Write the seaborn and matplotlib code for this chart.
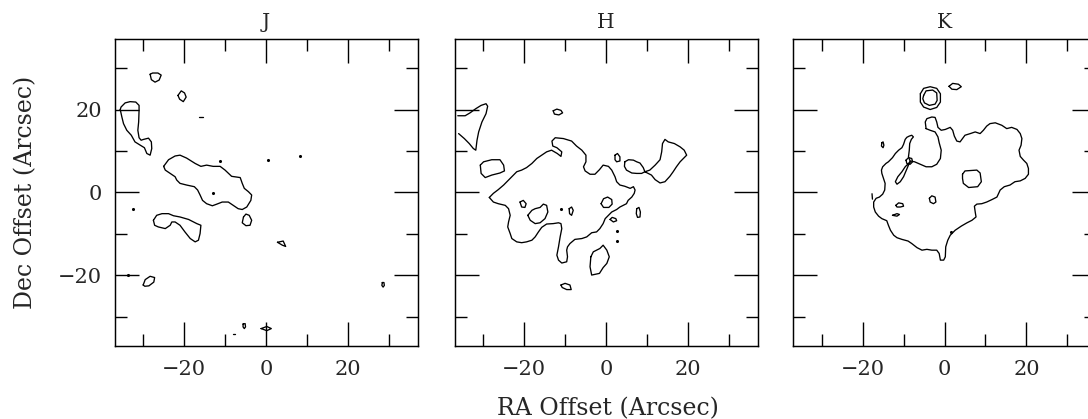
import pandas as pd
import matplotlib
matplotlib.use("Agg")
import matplotlib.pyplot as plt
import seaborn as sns

# ---------------- data ----------------
PANELS = ["J", "H", "K"]
MAJOR_TICKS = [-20, 0, 20]
MINOR_TICKS = [-30, -10, 10, 30]
AXIS_LIMIT = [-37, 37]
X_LABEL = "RA Offset (Arcsec)"
Y_LABEL = "Dec Offset (Arcsec)"

# J band contours (arcsec)
J_NW_LOOP = [(-28.3, 28.5), (-27.7, 28.8), (-26.4, 28.8), (-25.6, 28.3), (-26.1, 27.1), (-27.1, 26.6), (-28.0, 27.2)]
J_DIAMOND = [(-21.5, 23.4), (-20.7, 24.5), (-19.9, 24.0), (-19.5, 23.0), (-20.2, 21.9), (-21.1, 22.5)]
J_EDGE_STREAK = [(-35.6, 20.0), (-35.4, 20.6), (-34.4, 21.6), (-33.2, 21.9), (-31.8, 21.8), (-31.0, 21.0),
                 (-31.0, 19.8), (-31.1, 17.0), (-31.3, 15.0), (-31.0, 13.2), (-30.5, 12.6), (-29.9, 12.8),
                 (-28.7, 13.1), (-28.0, 12.2), (-27.9, 10.6), (-28.3, 9.0), (-29.1, 9.4), (-29.7, 10.8),
                 (-30.7, 11.4), (-32.0, 12.2), (-32.9, 13.8), (-34.0, 15.0), (-34.8, 16.6), (-35.2, 18.2)]
J_CENTRAL_BAND = [(-25.0, 6.3), (-23.8, 7.9), (-22.2, 8.8), (-21.0, 9.0), (-19.4, 8.3), (-17.3, 7.0),
                  (-15.9, 6.3), (-14.5, 6.6), (-12.9, 6.3), (-11.2, 6.3), (-10.0, 5.4), (-8.4, 3.9),
                  (-6.3, 3.6), (-5.8, 2.2), (-5.3, 1.0), (-4.3, 0.2), (-3.5, -0.6), (-3.7, -1.9),
                  (-4.7, -3.5), (-5.8, -4.1), (-6.8, -3.9), (-8.0, -3.1), (-9.2, -2.3), (-10.7, -2.3),
                  (-12.0, -2.8), (-13.1, -3.2), (-14.5, -2.7), (-15.5, -1.9), (-16.1, -0.6), (-16.7, 0.6),
                  (-17.5, 1.4), (-19.4, 1.8), (-21.0, 2.2), (-21.8, 3.0), (-22.2, 3.8), (-23.4, 4.6), (-24.6, 5.4)]
J_EAST_KNOT = [(-5.5, -5.9), (-4.9, -5.2), (-4.1, -5.5), (-3.5, -6.7), (-3.9, -7.9), (-4.9, -8.0), (-5.8, -7.3)]
J_SOUTH_ARC = [(-27.5, -6.7), (-26.7, -5.5), (-25.4, -5.1), (-23.8, -5.1), (-22.6, -5.6), (-21.0, -5.9),
               (-18.9, -6.5), (-16.9, -7.5), (-15.9, -7.9), (-16.1, -9.9), (-16.5, -11.5), (-17.3, -11.9),
               (-18.5, -11.1), (-19.8, -9.5), (-21.0, -7.9), (-22.2, -7.1), (-23.0, -7.1), (-23.4, -7.9),
               (-24.6, -8.7), (-26.3, -8.3), (-27.2, -7.9)]
J_SMALL_TRI = [(2.8, -12.0), (4.2, -11.7), (4.8, -13.0), (4.0, -12.7)]
J_SW_OVAL = [(-30.0, -22.3), (-29.5, -21.0), (-28.3, -20.2), (-27.2, -20.5), (-27.4, -21.6), (-28.6, -22.5), (-29.6, -22.6)]
J_BOTTOM_DIAMOND = [(-1.2, -32.8), (0.2, -32.3), (1.3, -32.8), (0.2, -33.3)]
J_BOTTOM_OVAL = [(-5.6, -31.7), (-5.1, -31.6), (-5.0, -32.4), (-5.3, -32.8), (-5.6, -32.4)]
J_FAR_EAST_OVAL = [(28.4, -21.7), (28.8, -21.7), (28.9, -22.4), (28.6, -22.8), (28.3, -22.4)]
J_DASH_A = [(-16.4, 18.1), (-15.4, 18.1)]
J_DASH_B = [(-8.1, -34.0), (-7.5, -34.0)]
J_DOTS_X = [-11.2, -12.9, 0.6, 8.4, -32.4, -33.6]
J_DOTS_Y = [7.5, -0.1, 7.8, 8.9, -4.0, -19.8]

# H band contours (arcsec)
H_EDGE_PLUME = [(-36.2, 18.5), (-34.4, 18.5), (-33.2, 19.2), (-31.8, 20.2), (-30.5, 21.0), (-29.3, 21.4),
                (-28.9, 20.8), (-29.3, 19.0), (-30.3, 17.0), (-31.1, 14.6), (-31.5, 12.6), (-31.8, 10.2),
                (-32.4, 10.6), (-33.4, 11.8), (-34.6, 13.0), (-36.0, 14.2)]
H_NORTH_OVAL = [(-12.9, 19.7), (-12.0, 20.1), (-11.0, 19.8), (-10.6, 19.2), (-11.5, 18.7), (-12.6, 18.9)]
H_WEST_BLOCK = [(-30.7, 6.6), (-29.9, 7.4), (-27.9, 7.9), (-25.9, 7.9), (-25.0, 6.6), (-24.8, 5.2),
                (-25.9, 4.7), (-27.9, 4.2), (-29.5, 3.6), (-30.5, 4.6)]
H_MAIN_CLOUD = [(-28.5, -1.2), (-27.5, -0.2), (-26.3, 0.7), (-25.0, 1.8), (-23.8, 3.0), (-22.6, 4.2),
                (-21.8, 5.0), (-20.6, 5.4), (-19.4, 6.0), (-18.1, 7.0), (-16.9, 8.2), (-15.7, 9.0),
                (-14.5, 9.8), (-13.3, 10.2), (-11.9, 9.4), (-11.0, 8.7), (-10.8, 9.8), (-12.0, 10.8),
                (-13.0, 11.2), (-13.2, 12.4), (-12.4, 13.2), (-10.4, 13.0), (-8.4, 12.4), (-7.2, 11.2),
                (-5.9, 10.2), (-4.9, 9.0), (-4.9, 7.4), (-5.5, 6.2), (-5.1, 5.2), (-3.9, 4.4), (-2.7, 4.4),
                (-1.6, 5.5), (-0.7, 6.6), (0.6, 6.3), (1.4, 5.4), (2.2, 3.8), (2.6, 2.6), (3.4, 1.8),
                (4.6, 1.5), (5.9, 1.0), (6.7, 1.4), (7.1, 0.6), (6.9, -0.2), (6.3, -1.1), (5.4, -1.9),
                (5.0, -2.7), (4.2, -3.1), (3.4, -3.5), (2.6, -4.1), (1.4, -4.7), (0.6, -5.5), (-0.2, -6.3),
                (-0.7, -7.5), (-1.5, -8.7), (-2.3, -9.5), (-3.5, -9.7), (-4.7, -10.7), (-5.9, -11.1),
                (-7.6, -11.3), (-8.8, -12.3), (-9.4, -13.1), (-9.6, -13.9), (-9.4, -15.5), (-9.6, -16.7),
                (-10.8, -17.0), (-11.6, -16.3), (-12.0, -15.1), (-11.6, -13.1), (-11.2, -10.7),
                (-10.8, -8.7), (-11.0, -7.5), (-11.6, -7.3), (-12.9, -7.5), (-14.5, -7.6), (-15.7, -8.4),
                (-16.5, -9.5), (-17.3, -10.7), (-18.1, -11.5), (-19.4, -11.9), (-20.6, -12.1),
                (-21.8, -11.9), (-23.0, -11.1), (-23.4, -9.9), (-24.0, -8.3), (-23.8, -7.1), (-23.4, -5.5),
                (-23.8, -3.9), (-24.6, -3.1), (-26.3, -2.7), (-27.5, -2.3)]
H_HOLE_A = [(-21.0, -2.3), (-20.2, -1.9), (-19.5, -2.7), (-19.8, -3.6), (-20.6, -3.5)]
H_HOLE_B = [(-19.1, -5.5), (-18.1, -4.3), (-17.3, -3.9), (-16.1, -3.6), (-15.3, -2.8), (-14.5, -3.1),
            (-14.2, -4.7), (-14.9, -6.3), (-16.1, -7.3), (-17.3, -7.5), (-18.5, -6.7)]
H_HOLE_C = [(-9.0, -3.9), (-8.4, -3.5), (-8.0, -4.3), (-8.4, -5.5), (-8.9, -5.1)]
H_SOUTH_BLOB = [(-3.7, -15.5), (-3.1, -14.3), (-1.5, -13.5), (-0.7, -12.7), (0.2, -13.9), (0.8, -15.5),
                (0.2, -17.1), (-0.7, -18.1), (-1.6, -19.5), (-3.5, -19.9), (-3.9, -17.9)]
H_SOUTH_CHIP = [(-11.0, -22.3), (-10.0, -21.9), (-8.8, -22.3), (-8.5, -23.4), (-9.6, -23.4), (-10.7, -22.9)]
H_KNOT_N = [(2.2, 9.0), (2.8, 9.4), (3.4, 8.6), (3.4, 7.6), (2.6, 7.4), (2.2, 7.9)]
H_KNOT_E = [(4.6, 7.4), (5.5, 7.9), (6.7, 7.8), (7.5, 7.4), (8.3, 7.1), (9.1, 6.0), (9.5, 5.0),
            (8.7, 4.6), (7.5, 4.6), (6.3, 4.7), (5.0, 5.4), (4.5, 6.3)]
H_EAST_KITE = [(9.5, 5.0), (10.7, 5.4), (12.0, 6.6), (13.2, 7.9), (13.6, 9.8), (13.8, 11.8), (14.4, 12.8),
               (15.2, 12.2), (16.7, 11.8), (18.1, 11.0), (19.1, 10.2), (19.7, 9.0), (18.9, 8.2),
               (18.1, 7.4), (17.2, 6.2), (16.4, 5.0), (15.6, 3.9), (14.4, 2.6), (13.2, 2.3), (12.0, 3.1),
               (11.1, 4.2)]
H_INNER_OVAL = [(7.5, -3.9), (8.05, -3.6), (8.4, -4.7), (8.3, -5.9), (7.7, -6.0), (7.4, -5.1)]
H_INNER_LOOP = [(1.0, -6.5), (1.5, -6.0), (2.4, -6.3), (2.6, -6.8), (1.8, -7.1)]
H_BAY_LOOP = [(-1.2, -2.7), (-0.6, -1.5), (0.4, -1.1), (1.4, -1.7), (1.5, -2.8), (0.7, -3.6), (-0.6, -3.6)]
H_DOTS_X = [-11.1, 2.6, 2.8]
H_DOTS_Y = [-4.0, -9.3, -11.7]

# K band contours (arcsec)
K_STAR_OUTER = [(-5.9, 23.8), (-5.1, 25.1), (-3.5, 25.5), (-1.9, 25.1), (-1.0, 23.8), (-1.0, 21.8),
                (-1.9, 20.5), (-3.5, 20.0), (-5.1, 20.6), (-5.9, 21.8)]
K_STAR_INNER = [(-5.1, 23.4), (-4.5, 24.5), (-2.9, 24.7), (-1.9, 24.0), (-1.8, 22.2), (-2.3, 21.3),
                (-3.7, 21.0), (-4.9, 21.6), (-5.3, 22.6)]
K_NE_OVAL = [(1.1, 25.6), (2.0, 26.3), (3.4, 26.1), (4.1, 25.5), (3.0, 24.8), (1.8, 24.9)]
K_MAIN_CLOUD = [(-4.5, 15.4), (-4.7, 17.0), (-4.3, 17.8), (-3.1, 18.2), (-2.3, 18.1), (-1.9, 17.0),
                (-1.6, 15.7), (-0.8, 15.0), (0.2, 15.2), (1.4, 15.7), (2.0, 15.0), (2.4, 13.6),
                (3.0, 12.4), (3.8, 12.2), (4.4, 13.0), (5.0, 13.8), (6.3, 14.2), (7.5, 14.6),
                (8.7, 14.2), (9.5, 15.0), (10.3, 16.0), (11.1, 16.6), (12.4, 16.8), (14.0, 16.2),
                (15.2, 15.4), (16.4, 15.7), (17.7, 15.2), (18.5, 14.2), (18.9, 13.0), (18.7, 11.4),
                (18.2, 10.2), (18.5, 8.7), (19.3, 7.8), (20.1, 7.0), (20.5, 5.8), (20.5, 4.4),
                (19.7, 3.4), (18.5, 2.8), (17.2, 2.6), (16.0, 1.8), (14.6, 1.4), (13.6, 0.6),
                (12.8, -1.1), (11.6, -1.7), (10.3, -2.3), (9.1, -2.7), (7.9, -2.8), (7.3, -3.3),
                (7.5, -4.7), (7.7, -5.9), (6.7, -6.7), (5.5, -7.3), (4.1, -8.1), (2.6, -9.1),
                (1.4, -10.3), (0.8, -11.5), (0.3, -13.1), (0.2, -15.5), (-0.2, -16.3), (-1.0, -16.3),
                (-1.3, -14.7), (-1.9, -13.9), (-3.1, -13.9), (-4.3, -13.7), (-5.5, -13.9), (-6.7, -13.3),
                (-8.0, -12.3), (-8.9, -11.7), (-10.4, -11.3), (-11.6, -10.9), (-12.4, -10.3),
                (-13.2, -9.1), (-13.7, -7.9), (-14.1, -6.8), (-15.3, -6.3), (-16.1, -5.7), (-16.9, -4.7),
                (-17.3, -3.5), (-17.3, -2.3), (-16.7, -1.4), (-15.9, -1.1), (-15.1, -0.4), (-14.6, 0.6),
                (-14.5, 2.2), (-14.9, 3.4), (-15.3, 4.6), (-15.4, 5.4), (-15.1, 6.2), (-14.3, 7.0),
                (-13.7, 7.4), (-12.7, 8.4), (-12.0, 9.4), (-11.2, 10.2), (-10.4, 10.8), (-10.0, 11.6),
                (-9.6, 12.8), (-9.2, 13.3), (-8.6, 13.6), (-8.0, 13.8), (-7.6, 13.4), (-8.1, 12.8),
                (-8.5, 11.8), (-8.6, 10.2), (-8.8, 8.6), (-8.4, 7.6), (-7.3, 7.4), (-5.9, 6.8),
                (-4.5, 6.2), (-3.1, 6.2), (-1.9, 6.8), (-1.0, 8.2), (-0.8, 10.2), (-1.3, 12.0),
                (-1.6, 13.4), (-2.3, 14.6), (-3.5, 15.0)]
K_THIN_FINGER = [(-8.4, 7.4), (-9.6, 6.2), (-10.4, 5.0), (-11.4, 3.8), (-12.0, 2.6), (-11.6, 2.0),
                 (-10.8, 2.6), (-10.0, 3.8), (-9.4, 5.2), (-8.8, 6.6)]
K_NECK_LOOP = [(-9.4, 7.8), (-8.8, 8.4), (-8.0, 8.2), (-7.8, 7.4), (-8.4, 6.8), (-9.2, 7.0)]
K_WEST_SLIVER = [(-15.3, 12.0), (-15.0, 12.2), (-14.8, 11.4), (-15.0, 10.8), (-15.4, 11.2)]
K_EAST_SQUARE = [(4.4, 4.4), (5.0, 5.2), (7.9, 5.4), (8.7, 4.7), (9.0, 2.6), (8.1, 1.4), (5.9, 1.2),
                 (4.6, 2.2), (4.4, 3.4)]
K_CORE_LOOP = [(-3.7, -1.4), (-3.1, -0.8), (-2.3, -1.1), (-2.1, -2.3), (-2.7, -2.7), (-3.5, -2.3)]
K_WEST_LOOP = [(-11.9, -3.1), (-11.2, -2.5), (-10.2, -2.7), (-10.0, -3.3), (-10.8, -3.5), (-11.6, -3.5)]
K_WEST_CHIP = [(-12.7, -5.5), (-11.6, -5.1), (-11.0, -5.3), (-11.6, -5.7)]
K_DASH = [(-17.7, -0.3), (-17.6, -1.6)]
K_DOTS_X = [1.6]
K_DOTS_Y = [-9.6]

# (panel, contour, closed)
CONTOURS = [
    ("J", J_NW_LOOP, True), ("J", J_DIAMOND, True), ("J", J_EDGE_STREAK, True),
    ("J", J_CENTRAL_BAND, True), ("J", J_EAST_KNOT, True), ("J", J_SOUTH_ARC, True),
    ("J", J_SMALL_TRI, True), ("J", J_SW_OVAL, True), ("J", J_BOTTOM_DIAMOND, True),
    ("J", J_BOTTOM_OVAL, True), ("J", J_FAR_EAST_OVAL, True),
    ("J", J_DASH_A, False), ("J", J_DASH_B, False),
    ("H", H_EDGE_PLUME, False), ("H", H_NORTH_OVAL, True), ("H", H_WEST_BLOCK, True),
    ("H", H_MAIN_CLOUD, True), ("H", H_HOLE_A, True), ("H", H_HOLE_B, True), ("H", H_HOLE_C, True),
    ("H", H_SOUTH_BLOB, True), ("H", H_SOUTH_CHIP, True), ("H", H_KNOT_N, True), ("H", H_KNOT_E, True),
    ("H", H_EAST_KITE, True), ("H", H_INNER_OVAL, True), ("H", H_INNER_LOOP, True), ("H", H_BAY_LOOP, True),
    ("K", K_STAR_OUTER, True), ("K", K_STAR_INNER, True), ("K", K_NE_OVAL, True),
    ("K", K_MAIN_CLOUD, True), ("K", K_THIN_FINGER, True), ("K", K_NECK_LOOP, True),
    ("K", K_WEST_SLIVER, True), ("K", K_EAST_SQUARE, True), ("K", K_CORE_LOOP, True),
    ("K", K_WEST_LOOP, True), ("K", K_WEST_CHIP, True), ("K", K_DASH, False),
]
DOTS = {"J": (J_DOTS_X, J_DOTS_Y), "H": (H_DOTS_X, H_DOTS_Y), "K": (K_DOTS_X, K_DOTS_Y)}

# ---------------- build table ----------------
rows = []
for cid, (panel, pts, closed) in enumerate(CONTOURS):
    seq = list(pts) + ([pts[0]] if closed else [])
    for k, (x, y) in enumerate(seq):
        rows.append({"panel": panel, "cid": cid, "k": k, "x": x, "y": y})
df = pd.DataFrame(rows)

# ---------------- plot ----------------
sns.set_style("ticks")
plt.rcParams["font.family"] = ["DejaVu Serif"]
plt.rcParams["axes.linewidth"] = 1.0

fig = plt.figure(figsize=(10.88, 4.19), dpi=100)
W, H = 1088.0, 419.0
lefts_px = [114.5, 454.5, 793.0]

for i, band in enumerate(PANELS):
    ax = fig.add_axes([lefts_px[i] / W, 73 / H, 303 / W, 307 / H])
    sub = df[df["panel"] == band]
    sns.lineplot(data=sub, x="x", y="y", units="cid", estimator=None, sort=False,
                 color="black", linewidth=0.95, ax=ax, legend=False)
    dx, dy = DOTS[band]
    sns.scatterplot(x=dx, y=dy, color="black", s=5, linewidth=0, ax=ax, legend=False)

    ax.set_xlim(AXIS_LIMIT)
    ax.set_ylim(AXIS_LIMIT)
    ax.set_xticks(MAJOR_TICKS)
    ax.set_xticks(MINOR_TICKS, minor=True)
    ax.set_yticks(MAJOR_TICKS)
    ax.set_yticks(MINOR_TICKS, minor=True)
    ax.tick_params(which="both", direction="in", top=True, right=True,
                   width=1.0, color="black")
    ax.tick_params(which="major", length=17)
    ax.tick_params(which="minor", length=8.5)
    ax.tick_params(axis="x", which="major", pad=10, labelsize=15)
    ax.tick_params(axis="y", which="major", pad=9, labelsize=15, labelleft=(i == 0))
    ax.set_xlabel("")
    ax.set_ylabel("")
    ax.set_title(band, fontsize=14.5, pad=8)
    for s in ax.spines.values():
        s.set_color("black")
        s.set_linewidth(1.05)

fig.text(608 / W, 4 / H, X_LABEL, ha="center", va="baseline", fontsize=17)
fig.text(26 / W, 1 - 192 / H, Y_LABEL, rotation=90, ha="center", va="center", fontsize=17)

fig.savefig("out.png", dpi=100, facecolor="white")
